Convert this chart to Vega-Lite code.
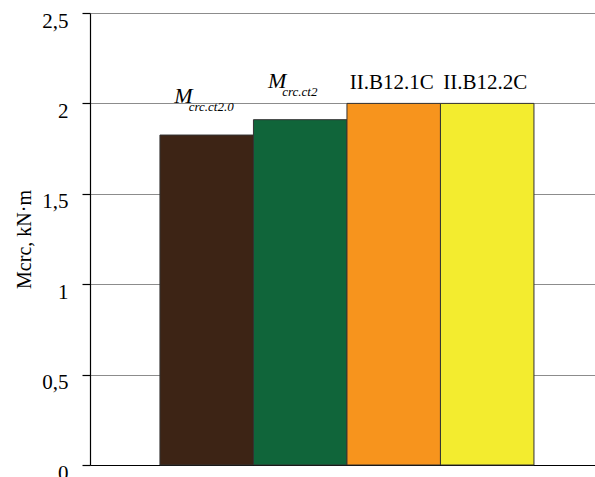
{
  "$schema": "https://vega.github.io/schema/vega-lite/v6.json",
  "width": 505,
  "height": 452,
  "autosize": {"type": "none"},
  "padding": {"left": 90, "top": 13, "right": 0, "bottom": 12},
  "background": "white",
  "config": {"view": {"stroke": null}, "font": "Liberation Serif"},
  "data": {
    "values": [
      {"series": "Mcrc.ct2.0", "main": "M", "sub": "crc.ct2.0", "value": 1.825},
      {"series": "Mcrc.ct2", "main": "M", "sub": "crc.ct2", "value": 1.91},
      {"series": "II.B12.1C", "main": "II.B12.1C", "sub": "", "value": 2.0},
      {"series": "II.B12.2C", "main": "II.B12.2C", "sub": "", "value": 2.0}
    ]
  },
  "encoding": {
    "x": {
      "field": "series",
      "type": "nominal",
      "sort": null,
      "scale": {"paddingInner": 0, "paddingOuter": 0.7005, "align": 0.534},
      "axis": {"labels": false, "ticks": false, "title": null, "domainColor": "#000000", "domainWidth": 1.2, "grid": false}
    },
    "y": {
      "field": "value",
      "type": "quantitative",
      "scale": {"domain": [0, 2.5], "nice": false, "zero": true},
      "axis": {
        "values": [0, 0.5, 1, 1.5, 2, 2.5],
        "format": "~g",
        "labelExpr": "replace(datum.label, '.', ',')",
        "grid": true,
        "gridColor": "#8c8c8c",
        "gridWidth": 1,
        "domainColor": "#000000",
        "domainWidth": 1.2,
        "tickColor": "#000000",
        "tickSize": 8,
        "tickWidth": 1.2,
        "labelFontSize": 21,
        "labelColor": "#000000",
        "labelFont": "Liberation Serif",
        "labelPadding": 14,
        "labelOffset": 8,
        "title": "Mcrc, kN·m",
        "titleFont": "Liberation Serif",
        "titleFontSize": 20,
        "titleFontWeight": "normal",
        "titleColor": "#000000",
        "titlePadding": 7
      }
    }
  },
  "layer": [
    {
      "mark": {"type": "bar", "stroke": "#333333", "strokeWidth": 1},
      "encoding": {
        "color": {
          "field": "series",
          "type": "nominal",
          "sort": null,
          "scale": {
            "domain": ["Mcrc.ct2.0", "Mcrc.ct2", "II.B12.1C", "II.B12.2C"],
            "range": ["#3d2415", "#10653a", "#f7941d", "#f3ec2f"]
          },
          "legend": null
        }
      }
    },
    {
      "transform": [{"filter": "datum.sub != ''"}],
      "mark": {"type": "text", "font": "Liberation Serif", "fontStyle": "italic", "fontSize": 22, "align": "right", "baseline": "alphabetic", "dx": -14, "dy": -32, "color": "#000000"},
      "encoding": {"text": {"field": "main"}}
    },
    {
      "transform": [{"filter": "datum.sub != ''"}],
      "mark": {"type": "text", "font": "Liberation Serif", "fontStyle": "italic", "fontSize": 13, "align": "left", "baseline": "alphabetic", "dx": -18, "dy": -24, "color": "#000000"},
      "encoding": {"text": {"field": "sub"}}
    },
    {
      "transform": [{"filter": "datum.sub == ''"}],
      "mark": {"type": "text", "font": "Liberation Serif", "fontSize": 21, "align": "center", "baseline": "alphabetic", "dx": -2, "dy": -14, "color": "#000000"},
      "encoding": {"text": {"field": "main"}}
    }
  ]
}
